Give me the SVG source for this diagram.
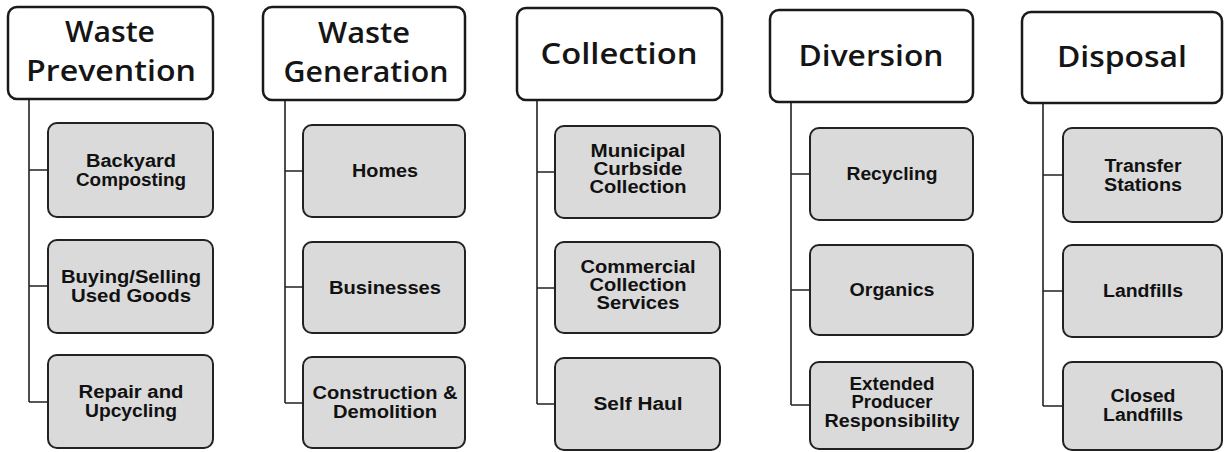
<svg xmlns="http://www.w3.org/2000/svg" width="1225" height="452" viewBox="0 0 1225 452">
<style>
.hdr{fill:#ffffff;stroke:#1a1a1a;stroke-width:2.5}
.child{fill:#dadada;stroke:#222222;stroke-width:2}
.ht{font-family:"Open Sans","Noto Sans",sans-serif;font-size:29px;font-weight:600;fill:#151515;text-anchor:middle}
.ct{font-family:"Liberation Sans",Arial,sans-serif;font-weight:bold;font-size:18px;fill:#111111;text-anchor:middle}
.conn{fill:none;stroke:#222222;stroke-width:1.6}
</style>
<rect width="1225" height="452" fill="#ffffff"/>
<g id="connectors">
<path class="conn" d="M29,99 V402 M29,170 H48 M29,286 H48 M29,402 H48"/>
<path class="conn" d="M285,100 V403 M285,171 H303 M285,287 H303 M285,403 H303"/>
<path class="conn" d="M537,100 V404 M537,172 H555 M537,288 H555 M537,404 H555"/>
<path class="conn" d="M791,102 V405 M791,174 H810 M791,290 H810 M791,405 H810"/>
<path class="conn" d="M1043,103 V406 M1043,175 H1063 M1043,291 H1063 M1043,406 H1063"/>
</g>
<g id="waste-prevention">
<rect class="hdr" x="8" y="7" width="205" height="92" rx="9"/>
<text class="ht" x="110" y="42" textLength="90" lengthAdjust="spacingAndGlyphs">Waste</text>
<text class="ht" x="111" y="81" textLength="170" lengthAdjust="spacingAndGlyphs">Prevention</text>
</g>
<g id="backyard-composting">
<rect class="child" x="48" y="123" width="165" height="94" rx="9"/>
<text class="ct" x="131" y="167" textLength="90" lengthAdjust="spacingAndGlyphs">Backyard</text>
<text class="ct" x="131" y="186" textLength="110" lengthAdjust="spacingAndGlyphs">Composting</text>
</g>
<g id="buying-selling">
<rect class="child" x="48" y="240" width="165" height="93" rx="9"/>
<text class="ct" x="131" y="283" textLength="140" lengthAdjust="spacingAndGlyphs">Buying/Selling</text>
<text class="ct" x="131" y="302" textLength="120" lengthAdjust="spacingAndGlyphs">Used Goods</text>
</g>
<g id="repair-upcycling">
<rect class="child" x="48" y="355" width="165" height="93" rx="9"/>
<text class="ct" x="131" y="398" textLength="105" lengthAdjust="spacingAndGlyphs">Repair and</text>
<text class="ct" x="131" y="417" textLength="92" lengthAdjust="spacingAndGlyphs">Upcycling</text>
</g>
<g id="waste-generation">
<rect class="hdr" x="263" y="7" width="202" height="93" rx="9"/>
<text class="ht" x="364" y="43" textLength="92" lengthAdjust="spacingAndGlyphs">Waste</text>
<text class="ht" x="366" y="82" textLength="165" lengthAdjust="spacingAndGlyphs">Generation</text>
</g>
<g id="homes">
<rect class="child" x="303" y="125" width="162" height="92" rx="9"/>
<text class="ct" x="385" y="177" textLength="66" lengthAdjust="spacingAndGlyphs">Homes</text>
</g>
<g id="businesses">
<rect class="child" x="303" y="242" width="162" height="91" rx="9"/>
<text class="ct" x="385" y="294" textLength="112" lengthAdjust="spacingAndGlyphs">Businesses</text>
</g>
<g id="construction-demolition">
<rect class="child" x="303" y="357" width="162" height="91" rx="9"/>
<text class="ct" x="385" y="399" textLength="145" lengthAdjust="spacingAndGlyphs">Construction &amp;</text>
<text class="ct" x="385" y="418" textLength="104" lengthAdjust="spacingAndGlyphs">Demolition</text>
</g>
<g id="collection">
<rect class="hdr" x="517" y="8" width="205" height="92" rx="9"/>
<text class="ht" x="619" y="64" textLength="157" lengthAdjust="spacingAndGlyphs">Collection</text>
</g>
<g id="municipal-curbside">
<rect class="child" x="555" y="126" width="165" height="92" rx="9"/>
<text class="ct" x="638" y="157" textLength="95" lengthAdjust="spacingAndGlyphs">Municipal</text>
<text class="ct" x="638" y="175" textLength="89" lengthAdjust="spacingAndGlyphs">Curbside</text>
<text class="ct" x="638" y="193" textLength="97" lengthAdjust="spacingAndGlyphs">Collection</text>
</g>
<g id="commercial-collection">
<rect class="child" x="555" y="242" width="165" height="91" rx="9"/>
<text class="ct" x="638" y="273" textLength="115" lengthAdjust="spacingAndGlyphs">Commercial</text>
<text class="ct" x="638" y="291" textLength="97" lengthAdjust="spacingAndGlyphs">Collection</text>
<text class="ct" x="638" y="309" textLength="83" lengthAdjust="spacingAndGlyphs">Services</text>
</g>
<g id="self-haul">
<rect class="child" x="555" y="358" width="165" height="92" rx="9"/>
<text class="ct" x="638" y="410" textLength="89" lengthAdjust="spacingAndGlyphs">Self Haul</text>
</g>
<g id="diversion">
<rect class="hdr" x="770" y="10" width="203" height="92" rx="9"/>
<text class="ht" x="871" y="66" textLength="145" lengthAdjust="spacingAndGlyphs">Diversion</text>
</g>
<g id="recycling">
<rect class="child" x="810" y="128" width="163" height="92" rx="9"/>
<text class="ct" x="892" y="180" textLength="91" lengthAdjust="spacingAndGlyphs">Recycling</text>
</g>
<g id="organics">
<rect class="child" x="810" y="245" width="163" height="90" rx="9"/>
<text class="ct" x="892" y="296" textLength="85" lengthAdjust="spacingAndGlyphs">Organics</text>
</g>
<g id="extended-producer">
<rect class="child" x="810" y="362" width="163" height="87" rx="9"/>
<text class="ct" x="892" y="390" textLength="85" lengthAdjust="spacingAndGlyphs">Extended</text>
<text class="ct" x="892" y="408" textLength="81" lengthAdjust="spacingAndGlyphs">Producer</text>
<text class="ct" x="892" y="427" textLength="135" lengthAdjust="spacingAndGlyphs">Responsibility</text>
</g>
<g id="disposal">
<rect class="hdr" x="1022" y="12" width="200" height="91" rx="9"/>
<text class="ht" x="1122" y="67" textLength="130" lengthAdjust="spacingAndGlyphs">Disposal</text>
</g>
<g id="transfer-stations">
<rect class="child" x="1063" y="128" width="159" height="94" rx="9"/>
<text class="ct" x="1143" y="172" textLength="77" lengthAdjust="spacingAndGlyphs">Transfer</text>
<text class="ct" x="1143" y="191" textLength="78" lengthAdjust="spacingAndGlyphs">Stations</text>
</g>
<g id="landfills">
<rect class="child" x="1063" y="245" width="159" height="92" rx="9"/>
<text class="ct" x="1143" y="297" textLength="80" lengthAdjust="spacingAndGlyphs">Landfills</text>
</g>
<g id="closed-landfills">
<rect class="child" x="1063" y="362" width="159" height="88" rx="9"/>
<text class="ct" x="1143" y="402" textLength="65" lengthAdjust="spacingAndGlyphs">Closed</text>
<text class="ct" x="1143" y="421" textLength="80" lengthAdjust="spacingAndGlyphs">Landfills</text>
</g>
</svg>
